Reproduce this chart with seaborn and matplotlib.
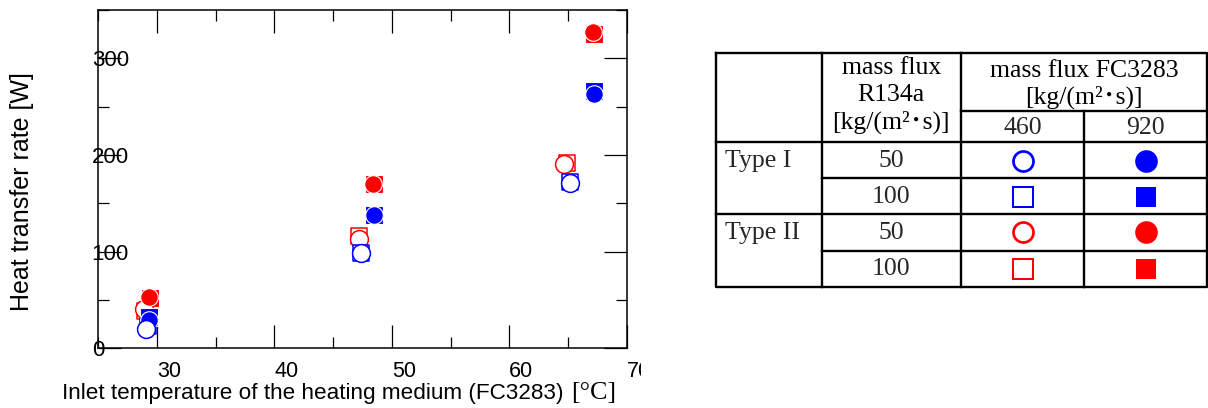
import numpy as np
import pandas as pd
import matplotlib
matplotlib.use("Agg")
import matplotlib.pyplot as plt
import seaborn as sns
from matplotlib.ticker import MultipleLocator, FixedLocator
from matplotlib.patches import Rectangle

# ---------------- data ----------------
x_ticks = [30, 40, 50, 60, 70]
y_ticks = [0, 100, 200, 300]

# Type I (blue)
t1_r50_f460_temp = [29.1, 47.33, 65.15]
t1_r50_f460_heat = [19.9, 98.9, 170.6]
t1_r100_f460_temp = [29.2, 47.35, 65.13]
t1_r100_f460_heat = [23.0, 98.2, 172.3]
t1_r50_f920_temp = [29.35, 48.5, 67.25]
t1_r50_f920_heat = [29.3, 137.9, 263.0]
t1_r100_f920_temp = [29.35, 48.45, 67.2]
t1_r100_f920_heat = [32.4, 138.0, 265.9]
# Type II (red)
t2_r50_f460_temp = [28.9, 47.19, 64.65]
t2_r50_f460_heat = [40.4, 113.0, 190.7]
t2_r100_f460_temp = [29.0, 47.19, 64.93]
t2_r100_f460_heat = [39.0, 116.2, 192.0]
t2_r50_f920_temp = [29.33, 48.41, 67.14]
t2_r50_f920_heat = [53.4, 170.0, 327.5]
t2_r100_f920_temp = [29.4, 48.45, 67.2]
t2_r100_f920_heat = [52.0, 170.0, 325.2]

series = [
    ("Type II", 100, 460, t2_r100_f460_temp, t2_r100_f460_heat),
    ("Type II", 100, 920, t2_r100_f920_temp, t2_r100_f920_heat),
    ("Type II", 50, 460, t2_r50_f460_temp, t2_r50_f460_heat),
    ("Type II", 50, 920, t2_r50_f920_temp, t2_r50_f920_heat),
    ("Type I", 100, 920, t1_r100_f920_temp, t1_r100_f920_heat),
    ("Type I", 100, 460, t1_r100_f460_temp, t1_r100_f460_heat),
    ("Type I", 50, 920, t1_r50_f920_temp, t1_r50_f920_heat),
    ("Type I", 50, 460, t1_r50_f460_temp, t1_r50_f460_heat),
]
rows = []
for order, (typ, r, f, xs, ys) in enumerate(series):
    for xv, yv in zip(xs, ys):
        rows.append(dict(order=order, type=typ, r134a=r, fc=f, temp=xv, heat=yv))
df = pd.DataFrame(rows)

type_color = {"Type I": "#0000ff", "Type II": "#ff0000"}
r_marker = {50: "o", 100: "s"}

# ---------------- figure ----------------
sns.set_theme(style="white")
plt.rcParams["font.family"] = ["Liberation Sans", "DejaVu Sans"]

W, H = 1208, 408
fig = plt.figure(figsize=(W / 100, H / 100), dpi=100)
fig.patch.set_facecolor("white")


def px_rect(l, t, r, b):
    return [l / W, 1 - b / H, (r - l) / W, (b - t) / H]


ax = fig.add_axes(px_rect(98.3, 10, 626.7, 348.3))
ax.set_facecolor("white")

for order, g in df.groupby("order", sort=True):
    typ = g["type"].iloc[0]
    r = g["r134a"].iloc[0]
    f = g["fc"].iloc[0]
    col = type_color[typ]
    mk = r_marker[r]
    if f == 920:
        s = 160 if mk == "o" else 170
        sns.scatterplot(data=g, x="temp", y="heat", ax=ax, marker=mk, s=s,
                        color=col, edgecolor="white", linewidth=0.8,
                        zorder=3 + order, legend=False)
    else:
        s = 165 if mk == "o" else 130
        sns.scatterplot(data=g, x="temp", y="heat", ax=ax, marker=mk, s=s,
                        color="white", edgecolor=col, linewidth=1.1,
                        zorder=3 + order, legend=False)

ax.set_xlim(25, 70)
ax.set_ylim(0, 350)
ax.xaxis.set_major_locator(FixedLocator(x_ticks))
ax.yaxis.set_major_locator(FixedLocator(y_ticks))
ax.xaxis.set_minor_locator(MultipleLocator(5))
ax.yaxis.set_minor_locator(MultipleLocator(50))
ax.set_xticklabels([str(v) for v in x_ticks])
ax.set_yticklabels([str(v) for v in y_ticks])
ax.set_xlabel("")
ax.set_ylabel("")

for sp in ax.spines.values():
    sp.set_visible(True)
    sp.set_color("black")
    sp.set_linewidth(1.1)

ax.tick_params(which="both", direction="in", top=True, right=True,
               bottom=True, left=True, color="black", width=0.9)
ax.tick_params(which="major", length=16.5)
ax.tick_params(which="minor", length=8)
ax.tick_params(axis="x", which="major", pad=9.5, labelsize=15.5, labelcolor="black")
ax.tick_params(axis="y", which="major", pad=4.8, labelsize=16, labelcolor="black")
for lab in ax.get_xticklabels():
    lab.set_horizontalalignment("left")
for lab in ax.get_yticklabels():
    lab.set_horizontalalignment("left")
ax.grid(False)

# axis titles
fig.text(22.5 / W, 1 - 192 / H, "Heat transfer rate [W]", rotation=90,
         ha="center", va="center", fontsize=18, color="black")
fig.text(563 / W, 1 - 394 / H, "Inlet temperature of the heating medium (FC3283)",
         ha="right", va="center", fontsize=16.2, color="black")
fig.text(571 / W, 1 - 393 / H, "[°C]", ha="left", va="center", fontsize=18.7,
         color="black", family=["Liberation Serif", "DejaVu Serif"])

# ---------------- legend table (pixel coordinates) ----------------
ov = fig.add_axes([0, 0, 1, 1])
ov.set_xlim(0, W)
ov.set_ylim(H, 0)
ov.axis("off")
ov.patch.set_alpha(0)

# clip of the chart picture at x=641
ov.add_patch(Rectangle((641, 350), 70, 30, facecolor="white", edgecolor="none", zorder=1))

L, R, T, B = 716, 1207, 52.7, 286.7
c1, c2, c3 = 822, 960.7, 1084
r_sub, r_head, r1, r2, r3 = 110.7, 142.3, 178.3, 214, 250.7
lw = 1.7
kw = dict(color="black", lw=lw, solid_capstyle="projecting", clip_on=False, zorder=2)
ov.plot([L, R, R, L, L], [T, T, B, B, T], **kw)
ov.plot([c1, c1], [T, B], **kw)
ov.plot([c2, c2], [T, B], **kw)
ov.plot([c3, c3], [r_sub, B], **kw)
ov.plot([c2, R], [r_sub, r_sub], **kw)
ov.plot([L, R], [r_head, r_head], **kw)
ov.plot([c1, R], [r1, r1], **kw)
ov.plot([L, R], [r2, r2], **kw)
ov.plot([c1, R], [r3, r3], **kw)

serif = ["Liberation Serif", "Noto Sans CJK JP", "DejaVu Serif"]
tfs = 18.5
unit = "[kg/(m²･s)]"
ov.text((c1 + c2) / 2, 95.5, "mass flux\nR134a\n" + unit, ha="center", va="center",
        fontsize=tfs, family=serif, linespacing=1.25, color="black")
ov.text((c2 + R) / 2, 84.5, "mass flux FC3283\n" + unit, ha="center", va="center",
        fontsize=tfs, family=serif, linespacing=1.25, color="black")
ov.text((c2 + c3) / 2, 128.5, "460", ha="center", va="center", fontsize=tfs, family=serif)
ov.text((c3 + R) / 2, 128.5, "920", ha="center", va="center", fontsize=tfs, family=serif)

row_y = [160.5, 196.5, 232.3, 268.5]
ov.text(725, 161, "Type I", ha="left", va="center", fontsize=tfs, family=serif)
ov.text(725, 233, "Type II", ha="left", va="center", fontsize=tfs, family=serif)
for yy, r in zip(row_y, [50, 100, 50, 100]):
    ov.text((c1 + c2) / 2, yy + 0.5, str(r), ha="center", va="center", fontsize=tfs, family=serif)

xo, xf = 1023, 1145.5
for yy, typ, r in zip(row_y, ["Type I", "Type I", "Type II", "Type II"], [50, 100, 50, 100]):
    col = type_color[typ]
    mk = r_marker[r]
    if mk == "o":
        ov.plot([xo], [yy], marker="o", ms=14.4, mfc="white", mec=col, mew=1.95, ls="none")
        ov.plot([xf], [yy], marker="o", ms=16.3, mfc=col, mec=col, mew=0, ls="none")
    else:
        ov.plot([xo], [yy], marker="s", ms=13.7, mfc="white", mec=col, mew=1.45, ls="none")
        ov.plot([xf], [yy], marker="s", ms=14.9, mfc=col, mec=col, mew=0, ls="none")

fig.savefig("out.png", dpi=100, facecolor="white")
